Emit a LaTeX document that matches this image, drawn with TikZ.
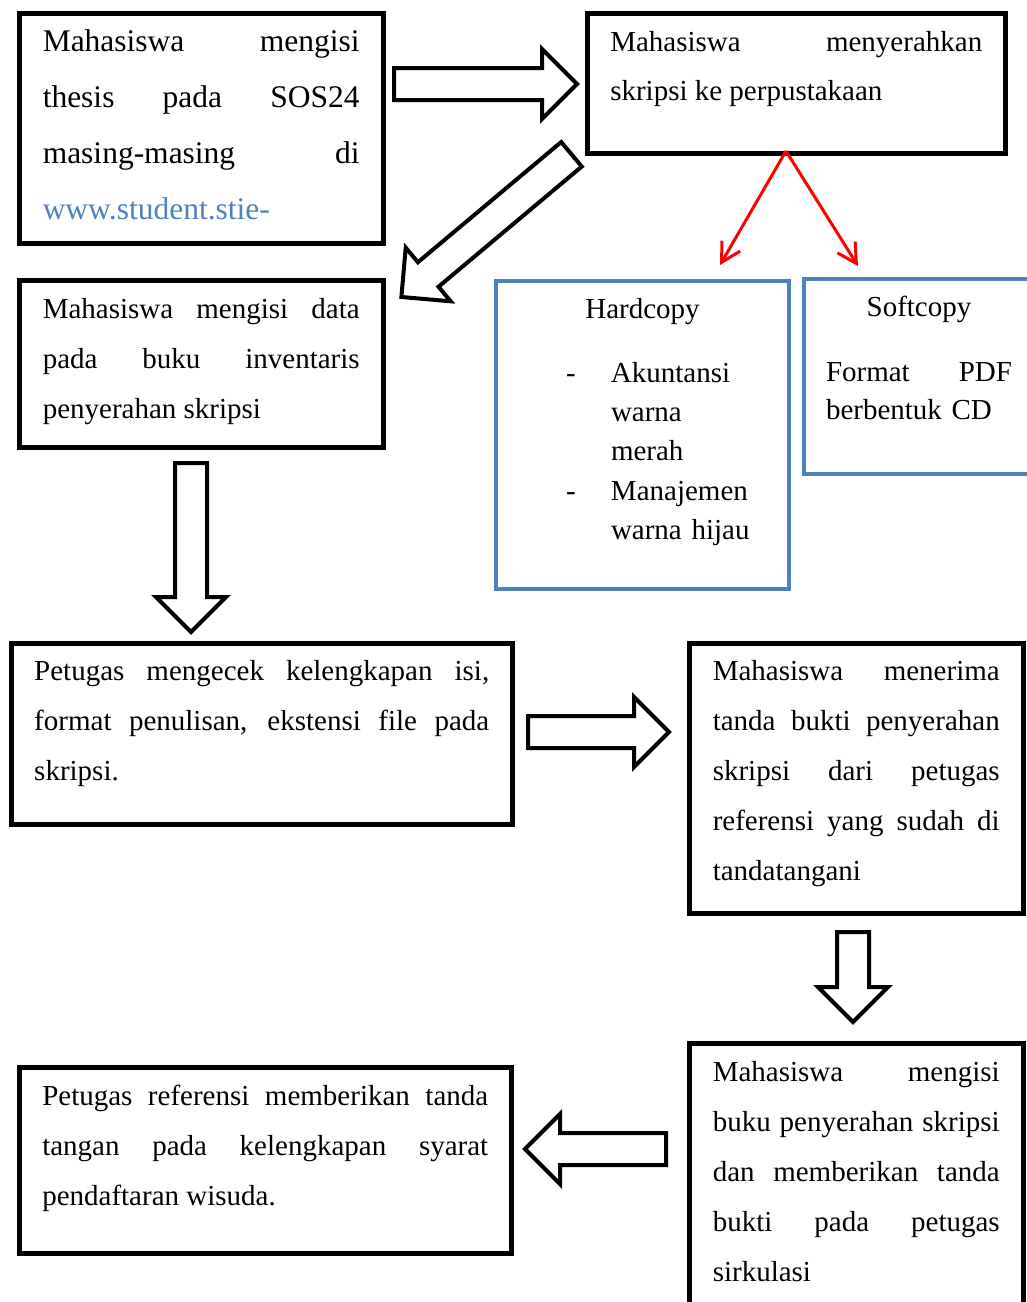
\documentclass[tikz,border=0pt]{standalone}
\usepackage{fontspec}
\setmainfont{Liberation Serif}
\usetikzlibrary{arrows.meta, shapes.arrows, positioning}
\definecolor{wordBlue}{HTML}{4F81BD}
\definecolor{linkBlue}{HTML}{4F81BD}
\hyphenpenalty=10000
\exhyphenpenalty=10000
\tolerance=10000

\begin{document}
\begin{tikzpicture}[x=1pt, y=-1pt,
  stepbox/.style={draw=black, line width=4.5pt, anchor=north west, inner sep=0pt,
                  align=justify, font=\fontsize{29}{50}\selectfont},
  copybox/.style={draw=wordBlue, line width=4pt, anchor=north west, inner sep=0pt},
  blk/.style={single arrow, draw=black, fill=white, line width=4pt, inner xsep=0pt,
              inner ysep=14pt, single arrow head extend=19pt, single arrow tip angle=90,
              anchor=tail},
  redarr/.style={draw=red, line width=3pt, -{Straight Barb[length=19pt, width=21pt]}}]
  \useasboundingbox (0,0) rectangle (1027,1302);
  \clip (0,0) rectangle (1027,1302);
  % top row
  \node[stepbox, minimum width=364, minimum height=230, text width=317,
        font=\fontsize{31.5}{56}\selectfont] (mhsIsi) at (17,11)
    {Mahasiswa mengisi\linebreak thesis pada SOS24\linebreak masing-masing di\linebreak
     {\color{linkBlue}www.student.stie-}\par\kern7pt};
  \node[stepbox, minimum width=418, minimum height=140, text width=372,
        font=\fontsize{29}{49}\selectfont] (mhsSerah) at (585,11)
    {Mahasiswa menyerahkan\linebreak skripsi ke perpustakaan\par\kern29pt};
  \node[stepbox, minimum width=364, minimum height=167, text width=317] (isiData) at (17,278)
    {Mahasiswa mengisi data\linebreak pada buku inventaris\linebreak penyerahan skripsi\par\kern5pt};
  % hardcopy / softcopy
  \node[copybox, minimum width=293, minimum height=308, text width=240,
        font=\fontsize{29}{39.4}\selectfont] (hardCopy) at (494,279)
    {\centering Hardcopy\par\vspace{24.6pt}
     \raggedright\leftskip=88.5pt
     \noindent\llap{\makebox[45pt][l]{-}}Akuntansi\\warna\\merah\par
     \noindent\llap{\makebox[45pt][l]{-}}Manajemen\\warna hijau\par\kern26pt};
  \node[copybox, minimum width=230, minimum height=195, text width=186,
        font=\fontsize{29}{38}\selectfont] (softCopy) at (802,277)
    {\centering Softcopy\par\vspace{27pt}
     \raggedright\noindent\hbox to 186pt{Format\hfill PDF}\\berbentuk CD\par\kern38pt};
  % middle and bottom rows
  \node[stepbox, minimum width=501, minimum height=181, text width=455] (cekIsi) at (9,641)
    {Petugas mengecek kelengkapan isi,\linebreak format penulisan, ekstensi file pada\linebreak
     skripsi.\par\kern21pt};
  \node[stepbox, minimum width=334, minimum height=270, text width=287] (terimaBukti) at (687,641)
    {Mahasiswa menerima\linebreak tanda bukti penyerahan\linebreak skripsi dari petugas\linebreak
     referensi yang sudah di\linebreak tandatangani\par\kern10pt};
  \node[stepbox, minimum width=334, minimum height=279, text width=287] (isiBuku) at (687,1041)
    {Mahasiswa mengisi\linebreak buku penyerahan skripsi\linebreak dan memberikan tanda\linebreak
     bukti pada petugas\linebreak sirkulasi\par\kern23pt};
  \node[stepbox, minimum width=492, minimum height=186, text width=446] (tandaTangan) at (17,1065)
    {Petugas referensi memberikan tanda\linebreak tangan pada kelengkapan syarat\linebreak
     pendaftaran wisuda.\par\kern24pt};
  % block arrows
  \node[blk, minimum height=183] (arrSerah) at (392,84) {};
  \node[blk, minimum height=222, rotate=220] (arrData) at (573,153) {};
  \node[blk, minimum height=169, rotate=-90] (arrCek) at (191,461) {};
  \node[blk, minimum height=141] (arrTerima) at (526,732) {};
  \node[blk, minimum height=90, rotate=-90] (arrBuku) at (853,930) {};
  \node[blk, minimum height=141, rotate=180] (arrTanda) at (668,1149) {};
  % red split
  \coordinate (fork) at (786,151);
  \coordinate (hardTip) at (720,265);
  \coordinate (softTip) at (858,266);
  \draw[redarr] (fork) -- (hardTip);
  \draw[redarr] (fork) -- (softTip);
\end{tikzpicture}
\end{document}
